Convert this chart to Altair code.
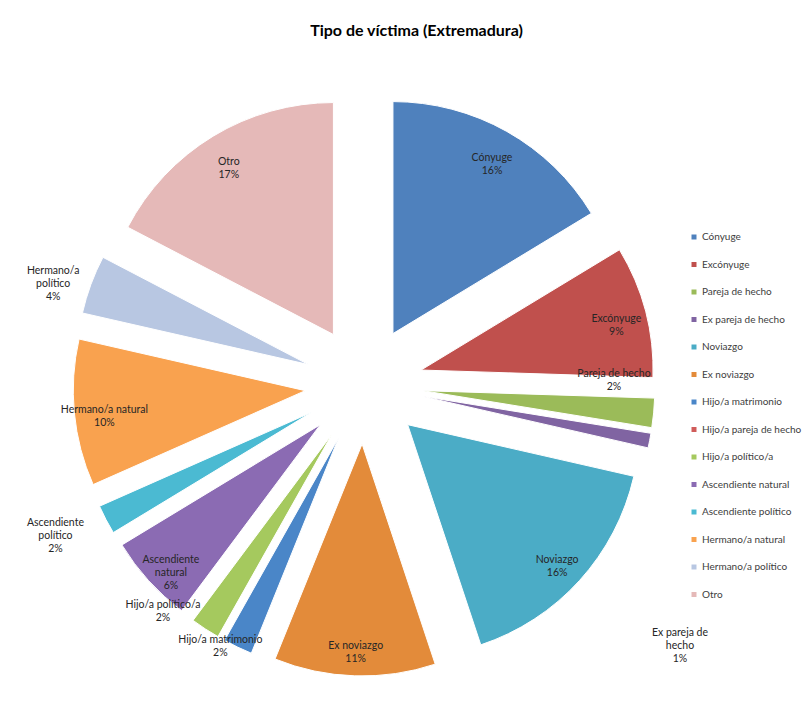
import altair as alt
import pandas as pd

# ---- data ----
categories = [
    "Cónyuge", "Excónyuge", "Pareja de hecho", "Ex pareja de hecho", "Noviazgo",
    "Ex noviazgo", "Hijo/a matrimonio", "Hijo/a pareja de hecho", "Hijo/a político/a",
    "Ascendiente natural", "Ascendiente político", "Hermano/a natural",
    "Hermano/a político", "Otro",
]
percent = [16, 9, 2, 1, 16, 11, 2, 0, 2, 6, 2, 10, 4, 17]
label_names = [
    "Cónyuge", "Excónyuge", "Pareja de hecho", "Ex pareja de\nhecho", "Noviazgo",
    "Ex noviazgo", "Hijo/a matrimonio", "Hijo/a pareja de hecho", "Hijo/a político/a",
    "Ascendiente\nnatural", "Ascendiente\npolítico", "Hermano/a natural",
    "Hermano/a\npolítico", "Otro",
]
colors = [
    "#4F81BD", "#C0504D", "#9BBB59", "#8064A2", "#4BACC6", "#E38B3A", "#4A86C8",
    "#D05C5A", "#A5C95E", "#8B6BB3", "#4BBAD2", "#F9A24F", "#B8C7E2", "#E5B9B8",
]

df = pd.DataFrame({
    "idx": list(range(len(categories))),
    "cat": categories,
    "value": percent,
    "txt": [f"{n}\n{v}%" for n, v in zip(label_names, percent)],
})

# ---- layout / style ----
W, H = 795, 660
CX, CY = 356, 337          # pie centre inside the view
R = 232                    # pie radius
EXPLODE = 59               # explosion distance of every slice
FONT = "Lato"

# labels that Excel moved away from the default spot (angle in degrees, radius in px)
label_moves = {
    "Pareja de hecho": (85.0, 192),
    "Ex pareja de hecho": (132.5, 350),
    "Hijo/a matrimonio": (210.3, 234),
    "Hijo/a político/a": (224.7, 240),
    "Ascendiente político": (246.7, 279),
}

ang_expr = "datum.tm"
rad_expr = f"datum.value >= 5 ? {0.87 * R} : {R + 5} + 40 * pow(sin(datum.tm), 2)"
for name, (a, r) in label_moves.items():
    ang_expr = f"datum.cat === '{name}' ? {a} * PI / 180 : ({ang_expr})"
    rad_expr = f"datum.cat === '{name}' ? {r} : ({rad_expr})"

xs = alt.Scale(domain=[-CX, W - CX], range=[0, W])
ys = alt.Scale(domain=[-CY, H - CY], range=[0, H])

base = (
    alt.Chart(df)
    .transform_window(cum="sum(value)", sort=[alt.SortField("idx")], frame=[None, 0])
    .transform_joinaggregate(total="sum(value)")
    .transform_calculate(t0="2 * PI * (datum.cum - datum.value) / datum.total")
    .transform_calculate(t1="2 * PI * datum.cum / datum.total")
    .transform_calculate(tm="(datum.t0 + datum.t1) / 2")
    .transform_calculate(ox=f"{EXPLODE} * sin(datum.tm)")
    .transform_calculate(oy=f"-{EXPLODE} * cos(datum.tm)")
)

arcs = base.transform_filter("datum.value > 0").mark_arc(
    outerRadius=R, stroke="#ffffff", strokeWidth=1
).encode(
    x=alt.X("ox:Q", scale=xs, axis=None),
    y=alt.Y("oy:Q", scale=ys, axis=None),
    theta=alt.Theta("t0:Q", scale=None, stack=None),
    theta2=alt.Theta2("t1:Q"),
    color=alt.Color(
        "cat:N",
        scale=alt.Scale(domain=categories, range=colors),
        sort=categories,
        legend=alt.Legend(
            title=None, orient="none", legendX=681, legendY=184,
            symbolType="square", symbolSize=25, symbolStrokeWidth=0,
            labelFont=FONT, labelFontSize=10, labelColor="#404040",
            rowPadding=17.5, labelOffset=3, padding=0, labelLimit=200,
        ),
    ),
)

labels = (
    base.transform_filter("datum.value > 0")
    .transform_calculate(la=ang_expr)
    .transform_calculate(lr=rad_expr)
    .mark_text(font=FONT, fontSize=10.5, lineBreak="\n", lineHeight=13, color="#262626")
    .encode(
        x=alt.X("ox:Q", scale=xs, axis=None),
        y=alt.Y("oy:Q", scale=ys, axis=None),
        theta=alt.Theta("la:Q", scale=None, stack=None),
        radius=alt.Radius("lr:Q", scale=None),
        text="txt:N",
    )
)

chart = (
    alt.layer(arcs, labels)
    .properties(
        width=W, height=H,
        autosize="none",
        padding={"left": 0, "top": 40, "right": 0, "bottom": 0},
        title=alt.TitleParams(
            "Tipo de víctima (Extremadura)", font=FONT, fontSize=16,
            fontWeight="bold", color="#000000", anchor="middle", dx=11,
            offset=-7, baseline="bottom",
        ),
    )
    .configure_view(stroke=None)
)

chart.save("out.html", embed_options={"renderer": "svg", "actions": False})
